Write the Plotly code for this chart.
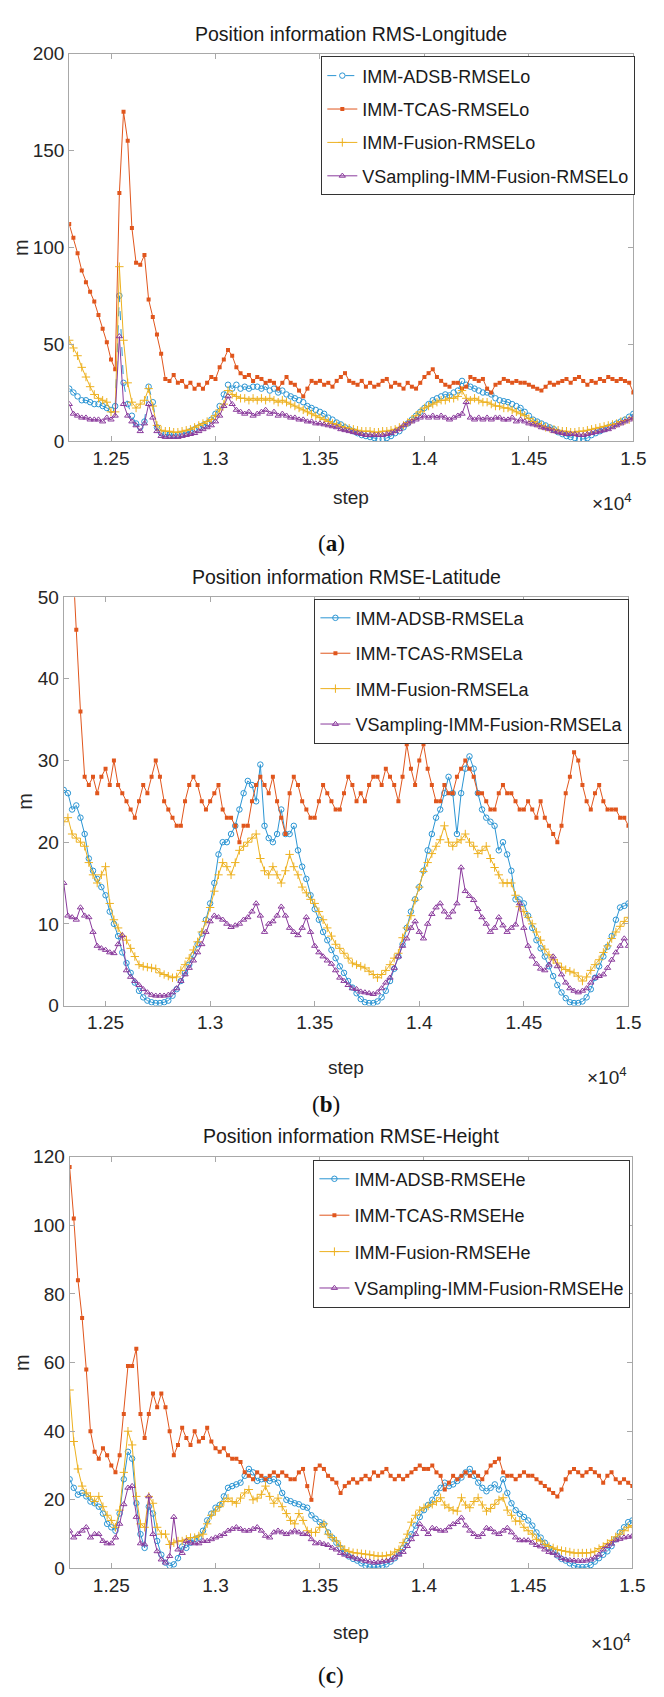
import plotly.graph_objects as go

# ---------------- data ----------------
STEPS = list(range(12300, 15001, 20))

XTICK_VALS = [12500, 13000, 13500, 14000, 14500, 15000]
XTICK_TEXT = ["1.25", "1.3", "1.35", "1.4", "1.45", "1.5"]

# Panel (a) Longitude
LO_ADSB = [27,25,23,21,21,20,19,19,18,17,
           16,18,75,30,19,13,9,7,10,28,
           20,7,4,3.5,3,3,3,3.5,4,5,
           6,7,8,9,11,14,18,24,29,27,
           29,27,28,27,28,28,27,28,26,27,
           25,26,24,23,22,21,20,18,17,16,
           15,14,12,11,9.5,8.5,7,6,5,4,
           3,2.5,2,1.5,1,1,1.5,2.5,4,5,
           7,9,11,13,15,17,19,21,22,23,
           24,23.5,25,26,31,29,28,27,26,25,
           25,24,22,21,20.5,20,19,18,17,15,
           13,11,10,9,8,7,6,4.5,3.5,2.5,
           2,1.5,1,1,1.5,3,4,5,6,7,
           8,9,10,11,12.5,14]
LO_TCAS = [112,105,97,88,82,77,72,65,58,51,
           42,37,128,170,155,110,92,91,96,73,
           64,55,45,32,31,34,30,31,28,30,
           27,29,27,30,33,32,38,42,47,44,
           38,35,33,34,31,33,32,30,31,30,
           27,30,33,30,29,26,23,27,31,30,
           31,29,30,28,31,33,35,31,30,29,
           31,28,30,28,29,31,32,28,30,29,
           27,30,28,27,30,33,35,37,33,31,
           29,28,30,30,27,28,33,32,31,32,
           27,25,29,30,32,31,30,31,30,30,
           29,28,27,26,28,30,29,30,31,32,
           30,32,33,31,29,31,30,32,31,33,
           32,31,32,31,30,25]
LO_FUS = [52,48,44,38,33,28,24,22,21,20,
          15,15,90,52,30,20,17,19,21,27,
          18,8,5.5,5,5,4.5,4.5,5,5.5,6,
          7,8,9,10,11,13,16,19,26,24,
          23,22,22,21,22,21,22,21,22,21,
          20,21,20,19,18,17,16,15,14,13,
          12,11,10,9,8.5,7.5,7,6.5,6,5.5,
          5,5,5,4.5,4.5,5,5,5.5,6,7,
          8,9.5,11,13,15,17,18,19,20,21,
          21,22,22,23,26,22,21,22,21,20,
          20,19,18,18,17,17,16,15,14,13,
          11.5,10,9,8,7,6.5,6,5.5,5,5,
          4.5,4.5,5,5,5.5,6,6.5,7,7.5,8,
          8.5,9,10,10.5,11,12]
LO_VS = [19,14,13,12,12,11,11,11,10,12,
         11,13,54,19,13,10,8,5,9,19,
         12,5,2.5,2,2,2,2,2.5,3,3.5,
         4,5,6,7,8,10,13,18,23,19,
         16,15,14,15,13,14,15,16,14,15,
         13,14,13,12,12,11,11,10,10,9,
         9,8.5,8,7.5,7,6,5.5,5,4.5,4,
         3.5,3,3,3,3,3,3.5,4,5,6,
         8,9,10,11,12,13,12,13,12,13,
         12,11,12,13,14,20,12,11,12,11,
         12,11,12,12,11,11,12,10,11,10,
         9,8.5,8,7,6.5,6,5,4.5,4,3.5,
         3.5,3.5,3,3,3.5,4,4.5,5,5.5,6,
         7,8,9,10,11,12]

# Panel (b) Latitude
LA_ADSB = [26.4,26,24,24.5,23,21,18,16.5,15.5,14.5,
           13.5,11.5,10,8.5,6.5,5.2,4,2.8,1.8,1,
           0.6,0.4,0.3,0.3,0.4,0.6,1.2,2,3,4,
           5,6.2,7.5,8.8,10.5,12.5,15,18.5,20,20,
           21,22,24,26,27.5,27,25,29.5,22,20.5,
           20,21,24,21,21,22,19,17,15.5,13.5,
           11.8,10.5,9,8,6.8,5.8,4.8,4,3,2.2,
           1.5,0.8,0.4,0.3,0.3,0.5,1,1.8,3,4.5,
           6,7.5,9.5,11.5,13,14.5,16.5,19,21,23,
           24,26,28,26,21,26,29,30.5,29,26,
           24,23,22.5,22,19,20,18.5,16.5,13,13,
           12.5,11,9.5,8,7,6,4.8,3.6,2.5,1.6,
           0.9,0.4,0.3,0.3,0.5,1,2,3.4,4.8,6,
           7.2,8.5,10.5,12,12.2,12.5]
LA_TCAS = [75,66,56,46,36,28,27,28,26,28,
           29,27,30,27,26,25,24,23,25,27,
           26,28,30,28,25,24,23,22,22,25,
           27,28,27,25,24,25,26,27,24,23,
           23,22,20,22,22,25,27,28,27,26,
           28,25,23,21,26,28,27,25,24,23,
           23,25,27,26,25,24,24,26,28,27,
           25,26,25,27,28,28,27,29,28,27,
           25,28,32,29,27,30,32,29,27,25,
           25,27,26,26,28,29,30,29,28,26,
           26,25,24,24,26,27,26,26,25,24,
           24,25,24,23,25,23,22,21,20,22,
           26,28,31,30,27,25,24,26,27,25,
           24,24,24,23,23,22]
LA_FUS = [22.5,23,21,20.5,20,19.5,17.5,16,15,16,
          17,12.5,10.5,9.5,8.5,8,7,6,5,4.8,
          4.7,4.6,4.5,4,3.8,3.6,3.4,3.5,4.3,5,
          5.8,6.8,7.8,9,10.3,12,14,16,17.5,17,
          16,17.5,19,19.5,20,20.5,21,18,16.5,16,
          17,16,15,16.5,18.5,17,16,14.5,13.8,13,
          12.5,11.5,10.5,9.5,8.5,7.5,7,6.4,5.8,5.2,
          5,4.8,4.6,4.2,3.8,3.4,3.8,4.3,5,5.8,
          6.4,8.3,9.5,11,12.9,14.5,16.4,17.5,18.6,19.5,
          20.3,22,20,19.5,20,20.3,21,20,19.5,18.6,
          19,19.5,18,16.9,16,15,15,15,13.5,12.1,
          11.5,10.8,10,9,8,6.9,6.2,5.6,5.2,4.7,
          4.4,4.2,4,3.6,3,3.5,4.3,5,5.6,6.5,
          7.3,8.2,9,9.7,10.3,10.8]
LA_VS = [15,11,10.8,10.5,12,11,10.8,9,7.3,7,
         6.8,6.5,6.4,7.5,8.6,4.3,3.5,3,2.5,2,
         1.6,1.3,1.2,1.2,1.2,1.3,1.6,2.1,3,3.8,
         4.6,5.5,6.5,7.5,9,10.3,11,10.8,10.5,10,
         9.6,9.8,10,10.5,10.8,11.5,12.5,11,9,10,
         10.3,11,12.1,11,9.5,9,8.6,9.5,10.8,9,
         7.3,6.5,6,5.5,5.1,4.3,3.4,3,2.5,2.1,
         2,1.7,1.6,1.5,1.4,1.6,2.1,2.8,3.4,4.6,
         6,7.3,8.2,9.5,10.3,9,8.2,10,11.2,12,
         12.5,11.5,10.8,11.5,12.5,16.9,14,13.4,12.9,11.8,
         10.8,10,9,9.5,10.8,9.8,9,9.5,9.9,12.5,
         9.5,7.3,6,5.1,4.5,4.3,5,6,4.8,3.8,
         2.8,2.1,1.8,1.6,1.8,2.1,2.8,3.4,3.6,3.8,
         4.6,5.6,6.5,7.3,8.2,7.3]

# Panel (c) Height
HE_ADSB = [26,23.5,21.5,22,21,19.5,19,18,16,13,
           12,11,16,26,34,32,19,10,6,18,
           16,8,4,1.7,0.8,1.2,3,6.4,6,7.5,
           8.5,9,11,14,16,17.7,18.5,21,23.5,24,
           24.5,25,27,29,28,25.5,26,26,25.5,26,
           25,22,20,19.6,19,18.7,18,17.7,15.5,14.5,
           13.5,12.9,10.5,9,7.5,6,4.5,3.5,2.8,2.3,
           1.5,0.8,0.4,0.4,0.4,0.8,1.2,2,3,4.5,
           6,8,10,12.5,15,17,18.5,20,22,23.5,
           25,24,24.5,25.5,26.5,28,29,27,25,23.5,
           22.5,23.5,24.5,23,26,22,19,17,15.9,15,
           14,12.5,10.5,9,7.5,6,5,3.8,2.8,2.3,
           1.5,0.8,0.4,0.4,0.4,1,2,3,4,5,
           6.5,8.5,10.5,12,13.5,14]
HE_TCAS = [117,102,84,73,58,40,34,32,35,33,
           30,28,33,45,59,59,64,45,38,45,
           51,47,51,47,40,33,36,41,38,36,
           40,37,38,41,37,35,34,35,33,32,
           32,31,28,27,26,28,27,26,27,28,
           27,28,27,26,26,28,29,24,20,29,
           30,29,27,26,25,22,24,25,26,25,
           26,27,26,28,27,28,29,27,26,27,
           26,27,28,29,30,29,29,30,28,27,
           23,25,27,26,27,28,27,28,27,26,
           28,30,31,32,28,27,27,26,27,28,
           27,27,26,25,24,23,22,21,23,26,
           28,29,28,27,28,29,28,27,25,27,
           28,26,25,26,25,24]
HE_FUS = [52,37,29,24,22,21,19.5,21,18,15.5,
          14,12,17,28,40,36,21,13,12,21,
          19,12,10,10,7,7.5,8,8,8.5,9,
          9,9.5,10,13,15.5,16.7,18,19.5,20.5,19.5,
          19,20.5,22,23,20,20.5,21.6,24,21,19,
          20.5,18,16,14,13,16,14,11,10.5,10.5,
          12,13,10,9,8,6.5,5.5,5,4.6,4.5,
          4.3,4.2,4,3.8,3.6,3.6,3.7,4,4.8,5.5,
          7.5,10,13.5,15.5,17,17.7,18.2,18.7,19.5,20.6,
          18.5,17.7,17,16.7,20.6,18.5,17.7,19.5,20.6,18.5,
          16.7,17.5,18.7,20,20.6,17,15.5,13.8,13.8,12,
          11,10,8.5,8,7,6.4,6,5.5,5.2,5,
          4.8,4.5,4.5,4.5,4.5,4.6,5,5.8,6.4,7.3,
          8.2,9.2,10,11,12,12.5]
HE_VS = [11,9,10,11,12,9,10,10,8,7.3,
         7.3,9,13,18.7,23.5,24,15,7.3,7,21,
         10,5,2.6,1.7,3.6,15,5.5,4.5,8,7.5,
         7.3,7.3,8,8,8.5,9,9.5,10,11,11.5,
         12,11.5,11,11,11.5,12,11,9.5,9,10.5,
         11,10.5,10,10.5,11,10.5,10,10,8.5,7.3,
         7.5,7.1,6.8,6,5.5,4.5,4,3.6,3.2,2.8,
         2.6,2.2,2,1.7,1.8,2,2.2,2.5,3.2,4,
         4.8,6.5,8.5,10,12.9,11.5,10,11.8,11.5,11,
         11,12,12.9,13.5,14.8,12.5,11,10,9.2,10,
         11.8,11.5,10.5,10,11,11.8,10.5,9,8.2,8.2,
         8.2,7.5,6.8,6.4,5.5,4.8,4.5,3.8,3,2.6,
         2.4,2.3,2.2,2.2,2.3,2.6,3.2,4,5.5,6.5,
         7.2,8.2,8.6,9,9.2,9.5]

for arr in [LO_ADSB, LO_TCAS, LO_FUS, LO_VS, LA_ADSB, LA_TCAS, LA_FUS, LA_VS,
            HE_ADSB, HE_TCAS, HE_FUS, HE_VS]:
    assert len(arr) == len(STEPS), len(arr)

# ---------------- styling ----------------
W, H = 664, 1697
FONT = "Liberation Sans, Arial, sans-serif"
SERIF = "Liberation Serif, DejaVu Serif, serif"
C_ADSB = "#2b95d3"
C_TCAS = "#e0561d"
C_FUS = "#edb120"
C_VS = "#8a3a9c"


def fx(px):
    return px / W


def fy(py):
    return 1 - py / H


panels = [
    dict(box=(70.6, 44.3, 646, 436.3), yr=[0, 200], dt=50,
         title="Position information RMS-Longitude", suffix="RMSELo",
         data=(LO_ADSB, LO_TCAS, LO_FUS, LO_VS), dash_adsb=True,
         leg=(648, 47), gap=7, label="a", title_y=24, step_y=494, exp_y=498, lab_y=540,
         m_x=22),
    dict(box=(65, 594.5, 641, 1008), yr=[0, 50], dt=10,
         title="Position information RMSE-Latitude", suffix="RMSELa",
         data=(LA_ADSB, LA_TCAS, LA_FUS, LA_VS), dash_adsb=False,
         leg=(642, 596), gap=9, label="b", title_y=574, step_y=1071, exp_y=1079, lab_y=1108,
         m_x=26),
    dict(box=(71, 1161, 645, 1578), yr=[0, 120], dt=20,
         title="Position information RMSE-Height", suffix="RMSEHe",
         data=(HE_ADSB, HE_TCAS, HE_FUS, HE_VS), dash_adsb=False,
         leg=(643, 1164), gap=10, label="c", title_y=1140, step_y=1643, exp_y=1652, lab_y=1686,
         m_x=22),
]

fig = go.Figure()
annotations = []
layout = {}

for k, p in enumerate(panels):
    n = "" if k == 0 else str(k + 1)
    xa, ya = "x" + n, "y" + n
    lg = "legend" + n
    x0, y0, x1, y1 = p["box"]
    names = ["IMM-ADSB-", "IMM-TCAS-", "IMM-Fusion-", "VSampling-IMM-Fusion-"]
    adsb, tcas, fus, vs = p["data"]
    specs = [
        (adsb, C_ADSB, dict(symbol="circle-open", size=5.5, line=dict(width=1, color=C_ADSB)),
         "dash" if p["dash_adsb"] else "solid"),
        (tcas, C_TCAS, dict(symbol="square", size=4, line=dict(width=0)), "solid"),
        (fus, C_FUS, dict(symbol="cross-thin-open", size=6, line=dict(width=1, color=C_FUS)), "solid"),
        (vs, C_VS, dict(symbol="triangle-up-open", size=5.5, line=dict(width=1, color=C_VS)), "solid"),
    ]
    for (vals, col, mk, dash), nm in zip(specs, names):
        fig.add_trace(go.Scatter(
            x=STEPS, y=vals, mode="lines+markers", name=nm + p["suffix"],
            line=dict(color=col, width=1, dash=dash),
            marker=dict(color=col, **mk),
            xaxis=xa, yaxis=ya, legend=lg, legendgroup=lg + nm,
        ))

    axis_common = dict(showline=True, mirror="ticks", linecolor="#a8a8a8", linewidth=1,
                       ticks="inside", ticklen=5, tickcolor="#a8a8a8", showgrid=False,
                       zeroline=False, tickfont=dict(family=FONT, size=19, color="#262626"))
    layout["xaxis" + n] = dict(domain=[fx(x0), fx(x1)], range=[12300, 15000], anchor=ya,
                               tickvals=XTICK_VALS, ticktext=XTICK_TEXT, **axis_common)
    layout["yaxis" + n] = dict(domain=[fy(y1), fy(y0)], range=p["yr"], dtick=p["dt"],
                               anchor=xa, **axis_common)
    layout[lg] = dict(x=fx(p["leg"][0]), y=fy(p["leg"][1]), xanchor="right", yanchor="top",
                      bgcolor="white", bordercolor="#333333", borderwidth=1,
                      font=dict(family=FONT, size=18, color="#1a1a1a"),
                      tracegroupgap=p["gap"], itemwidth=30)

    cx = (x0 + x1) / 2
    annotations += [
        dict(text=p["title"], x=fx(cx), y=fy(p["title_y"]), xref="paper", yref="paper",
             showarrow=False, xanchor="center", yanchor="middle",
             font=dict(family=FONT, size=19.5, color="#1a1a1a")),
        dict(text="step", x=fx(cx), y=fy(p["step_y"]), xref="paper", yref="paper",
             showarrow=False, xanchor="center", yanchor="middle",
             font=dict(family=FONT, size=19, color="#262626")),
        dict(text="×10<sup>4</sup>", x=fx(x1 + 1), y=fy(p["exp_y"]), xref="paper", yref="paper",
             showarrow=False, xanchor="right", yanchor="middle",
             font=dict(family=FONT, size=19, color="#262626")),
        dict(text="(<b>" + p["label"] + "</b>)", x=fx(cx - 20), y=fy(p["lab_y"]), xref="paper",
             yref="paper", showarrow=False, xanchor="center", yanchor="middle",
             font=dict(family=SERIF, size=23, color="#111111")),
        dict(text="m", x=fx(p["m_x"]), y=fy((y0 + y1) / 2), xref="paper", yref="paper",
             showarrow=False, xanchor="center", yanchor="middle", textangle=-90,
             font=dict(family=FONT, size=20, color="#262626")),
    ]

fig.update_layout(width=W, height=H, margin=dict(l=0, r=0, t=0, b=0),
                  paper_bgcolor="white", plot_bgcolor="white",
                  annotations=annotations, **layout)

fig.write_html("out.html")
